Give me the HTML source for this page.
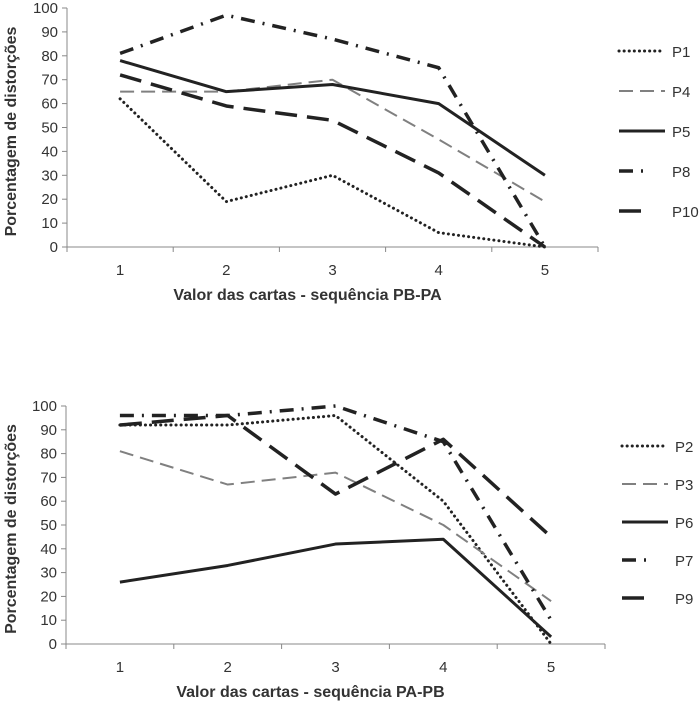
<!DOCTYPE html>
<html><head><meta charset="utf-8"><style>
body{margin:0;background:#fff;width:700px;height:704px;overflow:hidden}
svg{font-family:"Liberation Sans",sans-serif}
</style></head><body>
<svg id="s" width="700" height="704" xmlns="http://www.w3.org/2000/svg"></svg>
<script>
const categories=["1","2","3","4","5"];
const yTicks=[0,10,20,30,40,50,60,70,80,90,100];
const topNames=["P1","P4","P5","P8","P10"];
const topP1=[62,19,30,6,0];
const topP4=[65,65,70,45,19];
const topP5=[78,65,68,60,30];
const topP8=[81,97,87,75,0];
const topP10=[72,59,53,31,0];
const botNames=["P2","P3","P6","P7","P9"];
const botP2=[92,92,96,60,0];
const botP3=[81,67,72,50,18];
const botP6=[26,33,42,44,3];
const botP7=[96,96,100,85,10];
const botP9=[92,96,63,86,45];

const styles=[
 {c:"#222",w:3,d:"0.1 5",cap:"round",lw:44},
 {c:"#808080",w:2,d:"14 7",cap:"butt",lw:46},
 {c:"#222",w:3,d:"",cap:"butt",lw:46},
 {c:"#222",w:3.5,d:"14 8 2 8",cap:"butt",lw:32},
 {c:"#222",w:3.5,d:"22 10",cap:"butt",lw:32}
];
const svg=document.getElementById('s');
const NS="http://www.w3.org/2000/svg";
function mk(t,a){const e=document.createElementNS(NS,t);for(const k in a)e.setAttribute(k,a[k]);svg.appendChild(e);return e;}

function chart(cfg,names,series){
 const x=i=>cfg.x0+(i+0.5)*(cfg.x1-cfg.x0)/categories.length;
 const y=v=>cfg.y0-v/100*(cfg.y0-cfg.y100);
 let e=mk('line',{x1:cfg.x0,y1:cfg.y100,x2:cfg.x0,y2:cfg.y0,stroke:"#888","stroke-width":1});
 
 e=mk('line',{x1:cfg.x0,y1:cfg.y0,x2:cfg.x1,y2:cfg.y0,stroke:"#888","stroke-width":1});
 
 yTicks.forEach(v=>{
  mk('line',{x1:cfg.x0-5,y1:y(v),x2:cfg.x0,y2:y(v),stroke:"#888"});
  const t=mk('text',{x:cfg.x0-9,y:y(v)+5,"text-anchor":"end","font-size":15,fill:"#333"});t.textContent=v;
  
 });
 for(let i=0;i<=categories.length;i++){const xx=cfg.x0+i*(cfg.x1-cfg.x0)/categories.length;mk('line',{x1:xx,y1:cfg.y0,x2:xx,y2:cfg.y0+5,stroke:"#888"});}
 categories.forEach((c,i)=>{const t=mk('text',{x:x(i),y:cfg.y0+28,"text-anchor":"middle","font-size":15,fill:"#333"});t.textContent=c;
  });
 let t=mk('text',{x:(cfg.x0+cfg.x1)/2-25,y:cfg.y0+53,"text-anchor":"middle","font-size":16,"font-weight":"bold",fill:"#333"});t.textContent=cfg.xt;
 
 const cy=(cfg.y0+cfg.y100)/2+4;
 t=mk('text',{x:0,y:0,transform:`translate(16,${cy}) rotate(-90)`,"text-anchor":"middle","font-size":16,"font-weight":"bold",fill:"#333"});t.textContent="Porcentagem de distorções";
 
 series.forEach((s,k)=>{
  const st=styles[k];
  const p=mk('polyline',{points:s.map((v,i)=>x(i)+","+y(v)).join(" "),fill:"none",stroke:st.c,"stroke-width":st.w,"stroke-dasharray":st.d,"stroke-linecap":st.cap,"stroke-linejoin":"round"});
  
  const ly=cfg.ly+k*cfg.lg;
  const l=mk('line',{x1:cfg.lx,y1:ly,x2:cfg.lx+st.lw,y2:ly,stroke:st.c,"stroke-width":st.w,"stroke-dasharray":st.d,"stroke-linecap":st.cap});
  
  const lt=mk('text',{x:cfg.lx+53,y:ly+6,"font-size":15,fill:"#333"});lt.textContent=names[k];
  
 });
}
chart({id:"top",x0:67,x1:598,y0:247,y100:8,xt:"Valor das cartas - sequência  PB-PA",lx:619,ly:51,lg:40},topNames,[topP1,topP4,topP5,topP8,topP10]);
chart({id:"bottom",x0:66,x1:605,y0:644,y100:406,xt:"Valor das cartas - sequência  PA-PB",lx:622,ly:446,lg:38},botNames,[botP2,botP3,botP6,botP7,botP9]);
</script>
</body></html>
